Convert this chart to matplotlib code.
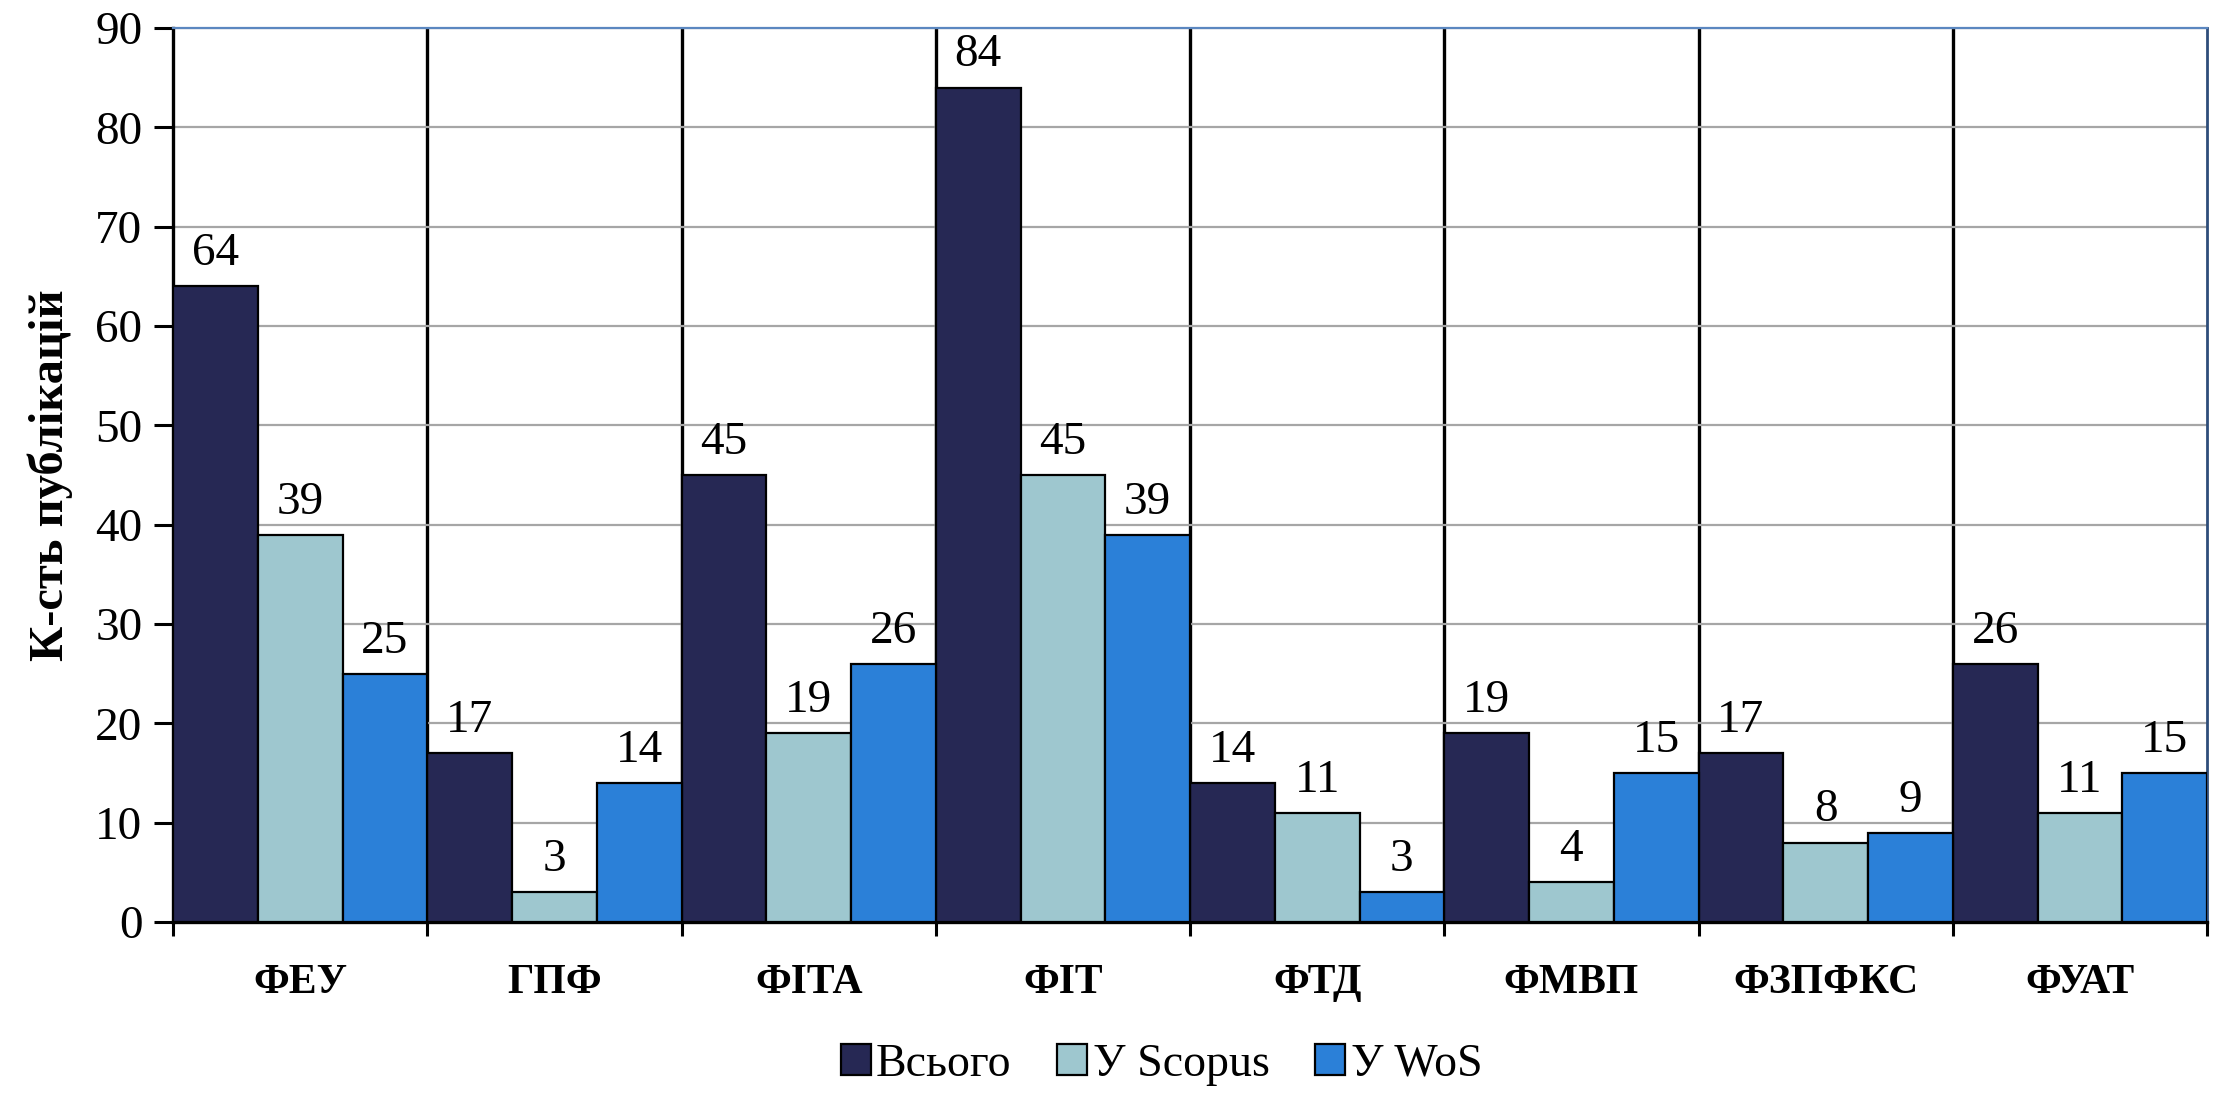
import matplotlib
matplotlib.use("Agg")
import matplotlib.pyplot as plt
import numpy as np

categories = ["ФЕУ", "ГПФ", "ФІТА", "ФІТ", "ФТД", "ФМВП", "ФЗПФКС", "ФУАТ"]
total = [64, 17, 45, 84, 14, 19, 17, 26]
scopus = [39, 3, 19, 45, 11, 4, 8, 11]
wos = [25, 14, 26, 39, 3, 15, 9, 15]
series_names = ["Всього", "У Scopus", "У WoS"]
colors = ["#262854", "#9EC7CF", "#2B80D8"]
yticks = [0, 10, 20, 30, 40, 50, 60, 70, 80, 90]

plt.rcParams['font.family'] = ['Liberation Serif', 'DejaVu Serif']

fig = plt.figure(figsize=(22.21, 10.94), dpi=100)
ax = fig.add_axes([0.0779, 0.1572, 0.9937 - 0.0779, 0.9744 - 0.1572])

n = len(categories)
x = np.arange(n)
w = 1 / 3
data = [total, scopus, wos]
handles = []
for k, (vals, c, name) in enumerate(zip(data, colors, series_names)):
    pos = x + w * k + w / 2
    b = ax.bar(pos, vals, width=w, color=c, edgecolor="black", linewidth=1.6,
               label=name, zorder=3)
    handles.append(b)
    for p, v in zip(pos, vals):
        ax.annotate(str(v), (p, v), xytext=(0, 8), textcoords="offset points",
                    ha="center", va="bottom", fontsize=34, zorder=4)

ax.set_xlim(0, n)
ax.set_ylim(0, 90)
ax.set_yticks(yticks)
ax.yaxis.grid(True, color="#A6A6A6", linewidth=1.6, zorder=0)
for i in range(1, n):
    ax.axvline(i, color="black", linewidth=2.4, zorder=1)

ax.set_xticks(np.arange(n + 1))
ax.set_xticklabels([])
ax.set_xticks(x + 0.5, minor=True)
ax.set_xticklabels(categories, minor=True, fontsize=30, fontweight="bold")
ax.tick_params(axis="x", which="minor", length=0, pad=30)
ax.tick_params(axis="x", which="major", length=10, width=2.2, direction="out")
ax.tick_params(axis="y", length=14, width=2.2, direction="out", labelsize=34, pad=8)

for s in ["left", "bottom"]:
    ax.spines[s].set_linewidth(2.4)
    ax.spines[s].set_color("black")
ax.spines["top"].set_color("#5B87C0")
ax.spines["top"].set_linewidth(1.6)
ax.spines["right"].set_color("#2E4D7A")
ax.spines["right"].set_linewidth(2.0)

ax.set_ylabel("К-сть публікацій", fontsize=35, fontweight="bold", labelpad=16)

fig.legend(handles=handles, labels=series_names, loc="center", bbox_to_anchor=(0.523, 0.027),
           ncol=3, frameon=False, fontsize=33, handlelength=0.65, handleheight=0.65,
           handletextpad=0.12, columnspacing=1.0, borderpad=0.1)

fig.savefig("out.png", dpi=100)
